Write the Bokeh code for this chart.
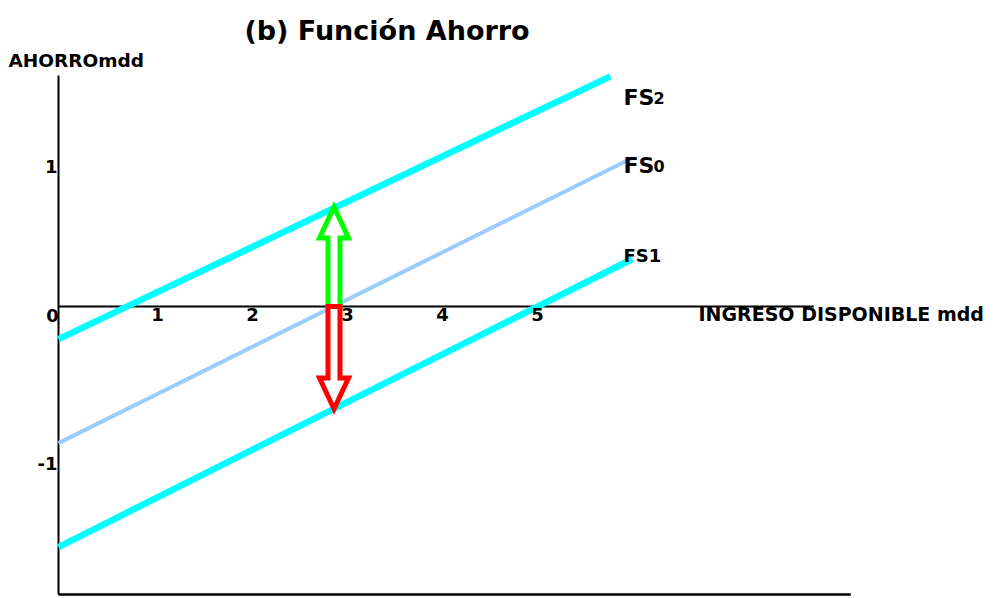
from bokeh.plotting import figure
from bokeh.models import Range1d
from bokeh.embed import file_html
from bokeh.resources import INLINE
from bokeh.core.properties import value

# ---------------- data ----------------
title_text = "(b) Función Ahorro"
y_title = "AHORROmdd"
x_title = "INGRESO DISPONIBLE mdd"
x_tick_values = [1, 2, 3, 4, 5]
x_tick_labels = ["1", "2", "3", "4", "5"]
y_tick_values = [1, -1]
y_tick_labels = ["1", "-1"]

fs2_x = [0.0, 5.81]
fs2_y = [-0.22, 1.55]
fs0_x = [0.0, 6.04]
fs0_y = [-0.92, 1.00]
fs1_x = [0.0, 6.04]
fs1_y = [-1.62, 0.32]

arrow_x = 2.9
arrow_up_top = 0.67        # shift up to FS2
arrow_down_bottom = -0.69  # shift down to FS1

# axis extents
x_axis_end = 8.34
zero_line_end = 7.95
y_axis_top = 1.556
y_axis_bottom = -1.94

# ---------------- layout ----------------
W, H = 1000, 598
PX_X, PX_Y = 95.0, 148.5
ORIG_X, ORIG_Y = 58.0, 306.0   # canvas px of data origin
TS = 7  # text baseline correction (px)

p = figure(width=W, height=H, output_backend="svg", toolbar_location=None,
           x_axis_type=None, y_axis_type=None, title=None,
           x_range=Range1d(-ORIG_X / PX_X, (W - ORIG_X) / PX_X),
           y_range=Range1d(-(H - ORIG_Y) / PX_Y, ORIG_Y / PX_Y),
           min_border=0)
p.outline_line_color = None
p.grid.visible = False
p.background_fill_color = "white"

FONT = value("DejaVu Sans")

def px_x(v):
    return (v - ORIG_X) / PX_X

def px_y(v):
    return (ORIG_Y - (v - TS)) / PX_Y

# axes
p.line([0, 0], [y_axis_bottom, y_axis_top], line_color="black", line_width=2)
p.line([0, x_axis_end], [y_axis_bottom, y_axis_bottom], line_color="black", line_width=2.5)
p.line([0, zero_line_end], [0, 0], line_color="black", line_width=2)

# saving functions
p.line(fs0_x, fs0_y, line_color="#99ccff", line_width=4)
p.line(fs2_x, fs2_y, line_color="#00ffff", line_width=6.5)
p.line(fs1_x, fs1_y, line_color="#00ffff", line_width=6.5)

# arrows
sw = 6.0 / PX_X
hw = 14.5 / PX_X
hl = 31.0 / PX_Y

def arrow(x, y0, y1):
    d = 1 if y1 > y0 else -1
    yb = y1 - d * hl
    xs = [x - sw, x - sw, x - hw, x, x + hw, x + sw, x + sw]
    ys = [y0, yb, yb, y1, yb, yb, y0]
    return xs, ys

gx, gy = arrow(arrow_x, 0, arrow_up_top)
rx, ry = arrow(arrow_x, 0, arrow_down_bottom)
p.patch(gx, gy, fill_color="white", line_color="#00ff00", line_width=5, line_join="miter")
p.patch(rx, ry, fill_color="white", line_color="#ff0000", line_width=5, line_join="miter")

# title
p.text(x=[px_x(386.5)], y=[px_y(37)], text=[title_text], text_font=FONT,
       text_font_style="bold", text_font_size="27px", text_align="center",
       text_baseline="alphabetic", text_color="black")

# axis titles
p.text(x=[px_x(8)], y=[px_y(67)], text=[y_title], text_font=FONT, text_font_style="bold",
       text_font_size="18.5px", text_align="left", text_baseline="alphabetic")
p.text(x=[px_x(698)], y=[px_y(320)], text=[x_title], text_font=FONT,
       text_font_style="bold", text_font_size="19px", text_align="left",
       text_baseline="alphabetic")

# tick labels
p.text(x=x_tick_values, y=[0] * len(x_tick_values), text=x_tick_labels, text_font=FONT,
       text_font_style="bold", text_font_size="18px", text_align="center",
       text_baseline="alphabetic", x_offset=4, y_offset=15 - TS)
p.text(x=[0], y=[0], text=["0"], text_font=FONT, text_font_style="bold",
       text_font_size="18px", text_align="center", text_baseline="alphabetic",
       x_offset=-6, y_offset=16 - TS)
p.text(x=[0] * len(y_tick_values), y=y_tick_values, text=y_tick_labels, text_font=FONT,
       text_font_style="bold", text_font_size="18px", text_align="right",
       text_baseline="alphabetic", x_offset=-1, y_offset=15 - TS)

# series labels
lx = px_x(623)
p.text(x=[lx, lx], y=[px_y(104), px_y(172)], text=["FS", "FS"], text_font=FONT,
       text_font_style="bold", text_font_size="22px", text_align="left",
       text_baseline="alphabetic")
p.text(x=[lx, lx], y=[px_y(104), px_y(172)], text=["2", "0"], text_font=FONT,
       text_font_style="bold", text_font_size="16px", text_align="left",
       text_baseline="alphabetic", x_offset=30)
p.text(x=[lx], y=[px_y(262)], text=["FS1"], text_font=FONT, text_font_style="bold",
       text_font_size="18px", text_align="left", text_baseline="alphabetic")

open("out.html", "w").write(file_html(p, INLINE))
